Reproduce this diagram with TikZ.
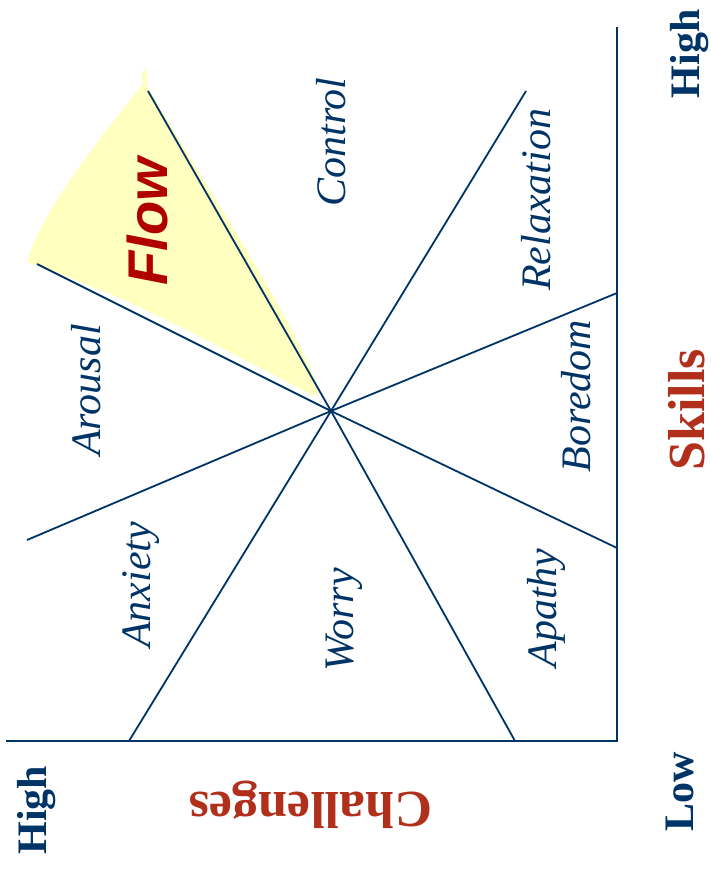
\documentclass[tikz,border=0pt]{standalone}
\usepackage{fontspec}
\setmainfont{Liberation Serif}
\newfontfamily\flowsans{Liberation Sans}
\usepackage{xcolor}
\usepackage{tikz}
\usetikzlibrary{positioning}

\definecolor{navy}{HTML}{003366}
\definecolor{rust}{HTML}{B0301C}
\definecolor{flowred}{HTML}{B00000}
\definecolor{flowfill}{HTML}{FFFFC0}

\newcommand{\zonefont}{\fontsize{42}{50}\selectfont\itshape}
\newcommand{\levelfont}{\fontsize{42}{50}\selectfont\bfseries}
\newcommand{\axisfont}{\fontsize{52}{60}\selectfont\bfseries}
\newcommand{\flowfont}{\flowsans\fontsize{56}{64}\selectfont\bfseries\itshape}

\begin{document}
\begin{tikzpicture}[
    x=1pt, y=-1pt,
    border/.style={navy, line width=1.8pt},
    zone/.style={navy, font=\zonefont, rotate=90, anchor=base, inner sep=0pt},
    level/.style={navy, font=\levelfont, rotate=90, anchor=base, inner sep=0pt},
    axislabel/.style={rust, font=\axisfont, anchor=base, inner sep=0pt}
]
\useasboundingbox (0,0) rectangle (711,875);

\coordinate (c) at (331,411);
\coordinate (orig) at (617,741);
\coordinate (ytop) at (617,27);
\coordinate (xend) at (6,741);
\coordinate (flowtop) at (148,91);
\coordinate (flowleft) at (37,264);
\coordinate (ctrlright) at (526,91);
\coordinate (bortop) at (617,293);
\coordinate (anxleft) at (27,540);
\coordinate (worleft) at (129,741);
\coordinate (worright) at (515,741);
\coordinate (apabot) at (617,548);

% flow channel
\fill[flowfill] (312,395) .. controls (250,362) and (130,300) .. (100,290)
    .. controls (70,278) and (45,268) .. (27,262)
    .. controls (40,215) and (90,150) .. (143,84)
    .. controls (141,78) and (142,70) .. (145,68)
    .. controls (148,72) and (148,80) .. (147,86)
    .. controls (205,185) and (295,320) .. (318,388)
    .. controls (319,396) and (315,397) .. (312,395) -- cycle;

\draw[border] (xend) -- (orig) -- (ytop);
\draw[border] (flowleft) -- (c) -- (apabot);
\draw[border] (anxleft) -- (c) -- (bortop);
\draw[border] (flowtop) -- (c) -- (worright);
\draw[border] (ctrlright) -- (c) -- (worleft);

\node[zone] (control) at (345,142) {Control};
\node[zone] (relax) at (550,200) {Relaxation};
\node[zone] (arousal) at (100,390) {Arousal};
\node[zone] (boredom) at (590,396) {Boredom};
\node[zone] (anxiety) at (150,585) {Anxiety};
\node[zone] (worry) at (353,620) {Worry};
\node[zone] (apathy) at (556,608) {Apathy};
\node[flowred, font=\flowfont, rotate=90, anchor=base, inner sep=0pt] (flow) at (167,222) {Flow};

\node[level] (skhigh) at (699,54) {High};
\node[level] (sklow) at (693,792) {Low};
\node[level] (chhigh) at (46,810) {High};
\node[axislabel, rotate=90] (skills) at (704,410) {Skills};
\node[axislabel, rotate=180] (challenges) at (311,792) {Challenges};
\end{tikzpicture}
\end{document}
